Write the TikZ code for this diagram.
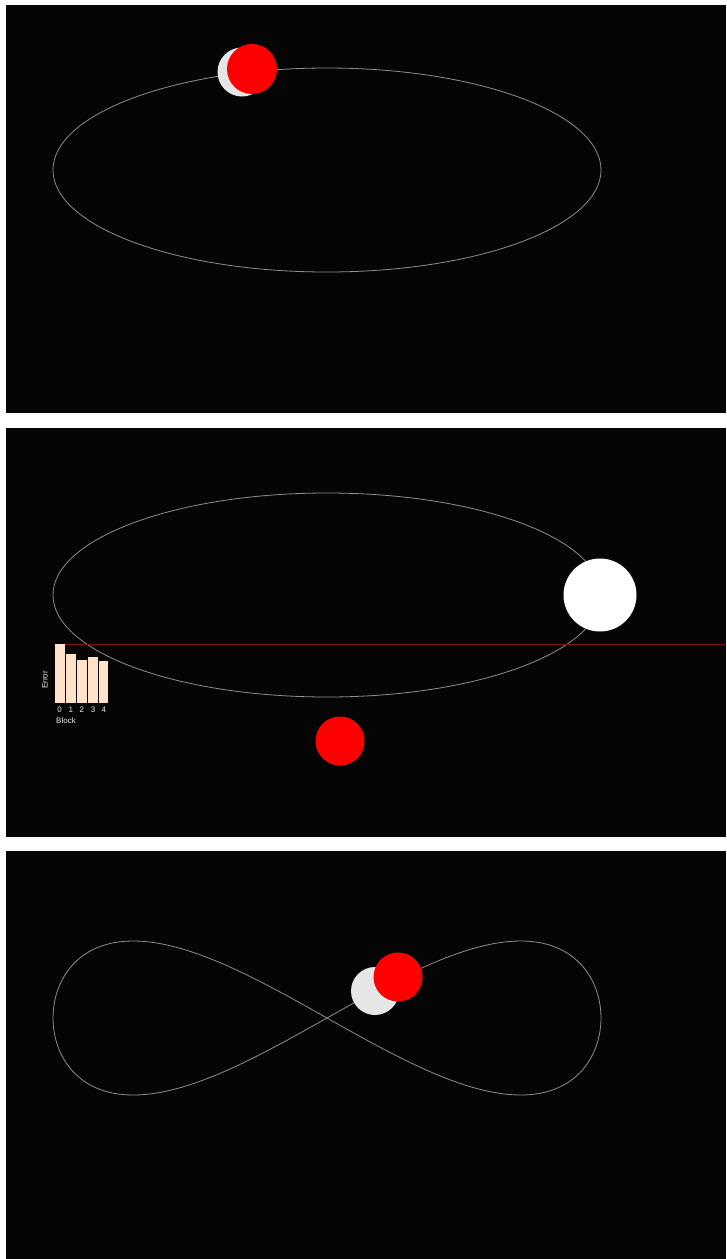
\documentclass[tikz,border=0pt]{standalone}
\usepackage{fontspec}
\setmainfont{Liberation Sans}
\definecolor{bg}{HTML}{050505}
\definecolor{orbit}{HTML}{8E8E8E}
\definecolor{ghost}{HTML}{E6E6E6}
\definecolor{peach}{HTML}{FFE2C8}
\definecolor{labtxt}{HTML}{F4EBE2}
\definecolor{errline}{HTML}{861010}
\begin{document}
\begin{tikzpicture}[x=1pt,y=-1pt,
  panel/.style={fill=bg,draw=none},
  orbitline/.style={draw=orbit,line width=0.8pt},
  ball/.style={circle,inner sep=0pt,draw=none},
  bar/.style={fill=peach,draw=none},
  lab/.style={text=labtxt,font=\fontsize{8}{9}\selectfont,inner sep=0pt}]
\useasboundingbox[fill=white] (0,0) rectangle (726,1259);
% panels
\fill[panel] (6,5) rectangle (726,413);
\fill[panel] (6,428) rectangle (726,837);
\fill[panel] (6,851) rectangle (726,1259);
% panel 1
\draw[orbitline] (327,170) ellipse [x radius=274, y radius=102];
\node[ball,fill=ghost,minimum size=49pt] (g1) at (242,72) {};
\node[ball,fill=red,minimum size=50pt] (r1) at (252,69) {};
% panel 2
\draw[orbitline] (327,595) ellipse [x radius=274, y radius=102];
\coordinate (lineA) at (55,644.5);
\coordinate (lineB) at (726,644.5);
\draw[errline,line width=1.3pt] (lineA) -- (lineB);
\node[ball,fill=white,minimum size=73pt] (w2) at (600,595) {};
\node[ball,fill=red,minimum size=49pt] (r2) at (340,741) {};
\fill[bar] (54.5,644) rectangle (64.5,703);
\fill[bar] (66,654) rectangle (75.8,703);
\fill[bar] (77,660) rectangle (86.8,703);
\fill[bar] (88.2,657) rectangle (98.2,703);
\fill[bar] (99.3,661) rectangle (108.3,703);
\node[lab] (d0) at (59.5,709.5) {0};
\node[lab] (d1) at (70.9,709.5) {1};
\node[lab] (d2) at (81.9,709.5) {2};
\node[lab] (d3) at (93.2,709.5) {3};
\node[lab] (d4) at (103.8,709.5) {4};
\node[lab] (blk) at (66,720.5) {Block};
\node[lab,rotate=90] (err) at (45,680) {Error};
% panel 3
\draw[orbitline] plot[domain=0:360,samples=240,smooth] ({327+274*cos(\x)},{1018+77*sin(2*\x)}) -- cycle;
\node[ball,fill=ghost,minimum size=48pt] (g3) at (375,991) {};
\node[ball,fill=red,minimum size=49pt] (r3) at (398,977) {};
\end{tikzpicture}
\end{document}
